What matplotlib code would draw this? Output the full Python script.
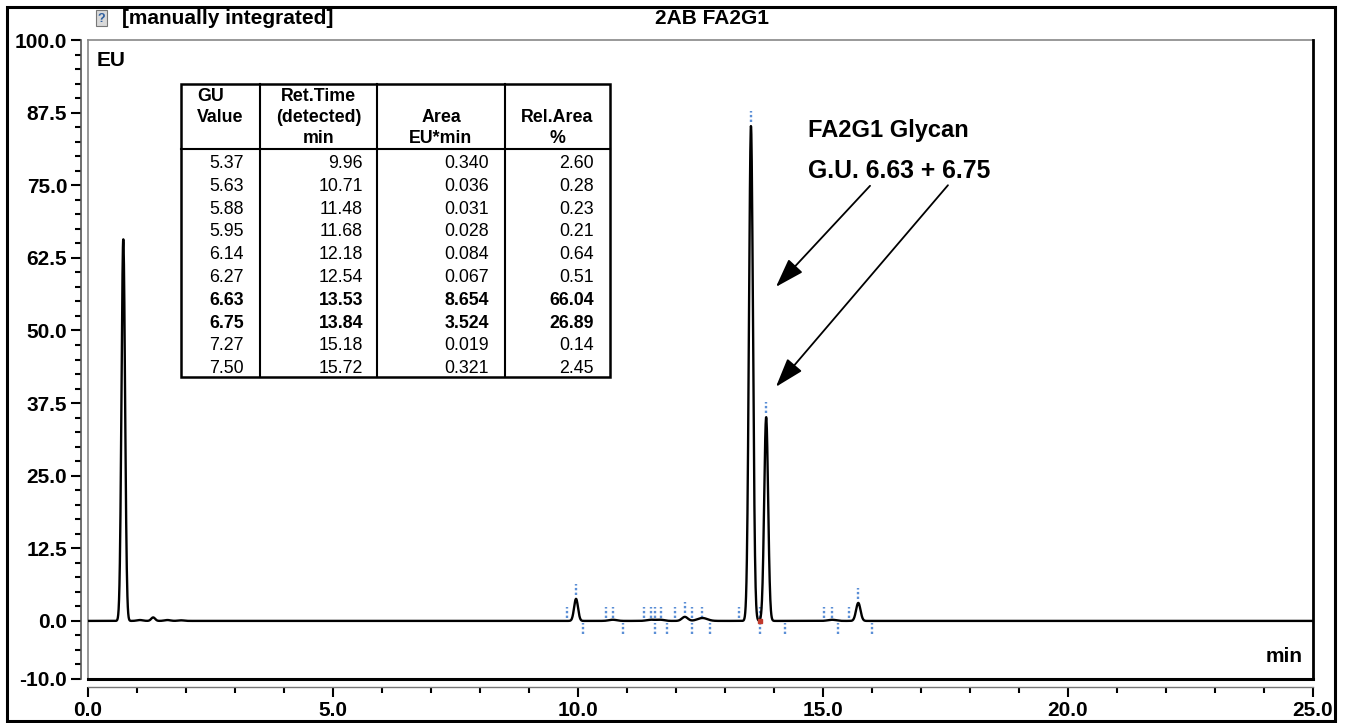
import numpy as np
import matplotlib.pyplot as plt
from matplotlib.lines import Line2D
from matplotlib.patches import Rectangle

plt.rcParams['font.family'] = ['Liberation Sans', 'DejaVu Sans']

# Peaks (retention time in min, height in EU, width sigma in min)
peak_rt = [0.72, 1.06, 1.33, 1.62, 1.90, 9.96, 10.71, 11.48, 11.68, 12.18, 12.54,
           13.53, 13.84, 15.18, 15.72]
peak_height = [65.7, 0.15, 0.6, 0.15, 0.1, 3.8, 0.2, 0.2, 0.2, 0.7, 0.5,
               85.2, 35.1, 0.2, 3.1]
peak_sigma = [0.036, 0.06, 0.04, 0.06, 0.06, 0.040, 0.08, 0.08, 0.08, 0.06, 0.10,
              0.041, 0.040, 0.08, 0.045]

# Integration marks (blue dotted ticks)
start_marks = [9.78, 10.58, 10.71, 11.35, 11.48, 11.57, 11.69, 11.97, 12.33, 12.54,
               13.29, 13.71, 15.02, 15.19, 15.54]
end_marks = [10.10, 10.91, 11.57, 11.82, 12.33, 12.69, 13.71, 14.22, 15.31, 15.99]
apex_rt = [9.96, 12.18, 13.53, 13.84, 15.72]
apex_height = [3.8, 0.7, 85.2, 35.1, 3.1]

# Peak table
gu_value = ["5.37", "5.63", "5.88", "5.95", "6.14", "6.27", "6.63", "6.75", "7.27", "7.50"]
ret_time = ["9.96", "10.71", "11.48", "11.68", "12.18", "12.54", "13.53", "13.84", "15.18", "15.72"]
area = ["0.340", "0.036", "0.031", "0.028", "0.084", "0.067", "8.654", "3.524", "0.019", "0.321"]
rel_area = ["2.60", "0.28", "0.23", "0.21", "0.64", "0.51", "66.04", "26.89", "0.14", "2.45"]

yticks = [-10.0, 0.0, 12.5, 25.0, 37.5, 50.0, 62.5, 75.0, 87.5, 100.0]
xticks = [0.0, 5.0, 10.0, 15.0, 20.0, 25.0]

W, H = 1349, 723
fig = plt.figure(figsize=(W / 100, H / 100), dpi=100)

def fx(px):
    return px / W

def fy(py):
    return 1 - py / H

ax = fig.add_axes([fx(88), fy(679), (1313 - 88) / W, (679 - 40) / H])

t = np.linspace(0, 25, 6001)
trace = np.zeros_like(t)
for rt, h, s in zip(peak_rt, peak_height, peak_sigma):
    trace += h * np.exp(-0.5 * ((t - rt) / s) ** 2)
ax.plot(t, trace, color='black', lw=1.7, zorder=3)

blue = '#5b8fd6'
ax.vlines(start_marks, 0.5, 2.4, colors=blue, linestyles=(0, (1, 1)), lw=1.7)
ax.vlines(end_marks, -2.2, -0.3, colors=blue, linestyles=(0, (1, 1)), lw=1.7)
ax.vlines(apex_rt, np.array(apex_height) + 0.7, np.array(apex_height) + 2.6,
          colors=blue, linestyles=(0, (1, 1)), lw=1.7)
ax.plot([13.71], [0], marker='s', ms=2.5, color='#c0392b', zorder=4)

ax.set_xlim(0, 25)
ax.set_ylim(-10, 100)

for s in ['top', 'right']:
    ax.spines[s].set_visible(False)
ax.spines['left'].set_position(('outward', 5))
ax.spines['bottom'].set_position(('outward', 6))
ax.spines['left'].set_color('#555555')
ax.spines['bottom'].set_color('#777777')
ax.spines['left'].set_linewidth(1.2)
ax.spines['bottom'].set_linewidth(1.0)

# plot frame
ax.add_line(Line2D([0, 0], [0, 1], transform=ax.transAxes, color='#888888', lw=1.2, clip_on=False))
ax.add_line(Line2D([0, 1], [1, 1], transform=ax.transAxes, color='#888888', lw=1.2, clip_on=False))
ax.add_line(Line2D([1, 1], [0, 1], transform=ax.transAxes, color='black', lw=2.0, clip_on=False))
ax.add_line(Line2D([0, 1], [0, 0], transform=ax.transAxes, color='black', lw=2.2, clip_on=False))

ax.set_yticks(yticks)
ax.set_yticklabels(['%.1f' % v for v in yticks])
ax.set_yticks(np.arange(-10, 100.01, 2.5), minor=True)
ax.set_xticks(xticks)
ax.set_xticklabels(['%.1f' % v for v in xticks])
ax.set_xticks(np.arange(0, 25.01, 1.0), minor=True)
ax.tick_params(axis='both', which='major', length=7, width=1.5, direction='out',
               labelsize=15, pad=3)
ax.tick_params(axis='both', which='minor', length=4, width=1.5, direction='out')
for lab in ax.get_xticklabels() + ax.get_yticklabels():
    lab.set_fontweight('bold')

# arrows and annotation text
arrow = dict(arrowstyle='-|>,head_length=1.0,head_width=0.33', color='black',
             lw=1.3, shrinkA=0, shrinkB=0, mutation_scale=18)
ax.annotate('', xy=(14.04, 57.5), xytext=(15.96, 74.9), arrowprops=arrow)
ax.annotate('', xy=(14.04, 40.3), xytext=(17.55, 75.0), arrowprops=arrow)
ax.text(14.69, 84.5, 'FA2G1 Glycan', fontsize=17, fontweight='bold', va='center')
ax.text(14.69, 77.4, 'G.U. 6.63 + 6.75', fontsize=17.8, fontweight='bold', va='center')

# header texts
fig.text(fx(122), fy(18), '[manually integrated]', fontsize=15, fontweight='bold', va='center')
fig.text(fx(712), fy(18), '2AB FA2G1', fontsize=15, fontweight='bold', va='center', ha='center')
fig.text(fx(97), fy(60), 'EU', fontsize=15, fontweight='bold', va='center')
fig.text(fx(1303), fy(657), 'min', fontsize=15, fontweight='bold', va='center', ha='right')

# small status icon
fig.add_artist(Rectangle((fx(96), fy(26)), 11 / W, 16 / H, transform=fig.transFigure,
                         facecolor='#d9d9d9', edgecolor='#777777', lw=0.8))
fig.text(fx(101.5), fy(19), '?', fontsize=9, fontweight='bold', color='#2f5f9f',
         ha='center', va='center')

# outer border
fig.add_artist(Rectangle((fx(7), fy(721)), (1335 - 7) / W, (721 - 7) / H,
                         transform=fig.transFigure, fill=False, ec='black', lw=2.2))

# peak table
tab = fig.add_axes([fx(181), fy(377), (610 - 181) / W, (377 - 84) / H])
tab.set_xlim(181, 610)
tab.set_ylim(377, 84)
tab.axis('off')
tab.add_patch(Rectangle((181, 84), 610 - 181, 377 - 84, fill=False, ec='black', lw=1.8,
                        clip_on=False))
tab.plot([181, 610], [149, 149], color='black', lw=1.5, clip_on=False)
for xs in [260, 377, 505]:
    tab.plot([xs, xs], [84, 377], color='black', lw=1.5, clip_on=False)

fs = 12.8
hdr = dict(fontsize=fs, fontweight='bold', va='baseline')
tab.text(197, 101, 'GU', ha='left', **hdr)
tab.text(197, 122, 'Value', ha='left', **hdr)
for yy, s in zip([101, 122, 143], ['Ret.Time', '(detected)', 'min']):
    tab.text(318.5, yy, s, ha='center', **hdr)
for yy, s in zip([122, 143], ['Area', 'EU*min']):
    tab.text(441, yy, s, ha='center', **hdr)
for yy, s in zip([122, 143], ['Rel.Area', '%']):
    tab.text(557.5, yy, s, ha='center', **hdr)

col_right = [244, 363, 489, 594]
for i in range(len(gu_value)):
    yy = 162 + 22.8 * i + 6
    wt = 'bold' if float(rel_area[i]) > 20 else 'normal'
    for xr, col in zip(col_right, [gu_value, ret_time, area, rel_area]):
        tab.text(xr, yy, col[i], ha='right', va='baseline', fontsize=fs, fontweight=wt)

fig.savefig('out.png', dpi=100)
